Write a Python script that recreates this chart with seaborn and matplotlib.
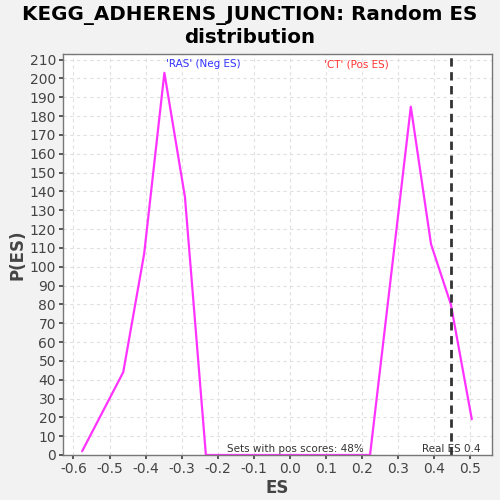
import matplotlib
matplotlib.use("Agg")
import matplotlib.pyplot as plt
import seaborn as sns
import pandas as pd

es_values = [-0.576, -0.462, -0.404, -0.348, -0.291, -0.233, 0.222, 0.277, 0.335, 0.391, 0.446, 0.504]
p_values = [2, 44, 107, 203, 137, 0, 0, 90, 185, 112, 80, 19]
real_es = 0.446
x_ticks = [-0.6, -0.5, -0.4, -0.3, -0.2, -0.1, 0.0, 0.1, 0.2, 0.3, 0.4, 0.5]
y_ticks = list(range(0, 211, 10))

sns.set_theme(style="white")
plt.rcParams['font.family'] = ['DejaVu Sans']

df = pd.DataFrame({"ES": es_values, "P(ES)": p_values})

fig = plt.figure(figsize=(5, 5), dpi=100, facecolor="#f2f2f2")
ax = fig.add_axes([0.126, 0.09, 0.858, 0.802])
ax.set_facecolor("white")

sns.lineplot(data=df, x="ES", y="P(ES)", ax=ax, color="#ff33ff", linewidth=1.6, sort=False)
ax.axvline(real_es, color="#333333", linestyle=(0, (3, 2)), linewidth=2)

ax.set_xlim(-0.629, 0.56)
ax.set_ylim(0, 213)
ax.set_xticks(x_ticks)
ax.set_xticklabels([f"{v:.1f}" for v in x_ticks])
ax.set_yticks(y_ticks)
ax.grid(True, color="#e0e0e0", linestyle=(0, (3, 3)), linewidth=0.8)
ax.tick_params(axis="both", labelsize=10, colors="#444444", length=3, direction="out", bottom=True, left=True, pad=2)
for s in ax.spines.values():
    s.set_color("#777777")
    s.set_linewidth(1)

ax.set_xlabel("ES", fontsize=12, fontweight="bold", color="#444444", labelpad=2)
ax.set_ylabel("P(ES)", fontsize=12, fontweight="bold", color="#444444", labelpad=2)

ax.text(-0.343, 207.5, "'RAS' (Neg ES)", color="#3333ff", fontsize=7.5, va="center", ha="left")
ax.text(0.094, 207.5, "'CT' (Pos ES)", color="#ff3333", fontsize=7.5, va="center", ha="left")
ax.text(-0.175, 0.5, "Sets with pos scores: 48%", color="#333333", fontsize=7.5, va="bottom", ha="left")
ax.text(0.365, 0.5, "Real ES 0.4", color="#333333", fontsize=7.5, va="bottom", ha="left")

fig.suptitle("KEGG_ADHERENS_JUNCTION: Random ES\ndistribution", fontsize=14.3, fontweight="bold", y=0.99, color="black", linespacing=1.2)

fig.savefig("out.png", dpi=100, facecolor=fig.get_facecolor())
